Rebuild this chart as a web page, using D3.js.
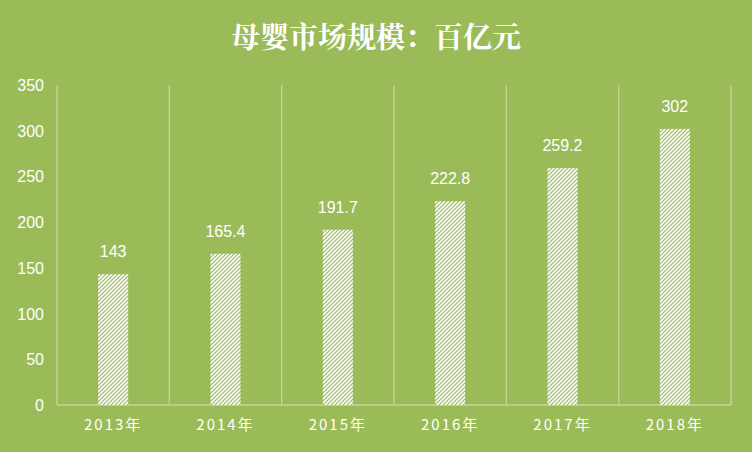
<!DOCTYPE html>
<html><head><meta charset="utf-8">
<script src="https://cdn.jsdelivr.net/npm/d3@7"></script>
<style>body{margin:0;background:#9bbb59;}</style>
</head><body>
<script>
const years = ["2013年", "2014年", "2015年", "2016年", "2017年", "2018年"];
const values = [143, 165.4, 191.7, 222.8, 259.2, 302];
const yTicks = [0, 50, 100, 150, 200, 250, 300, 350];

const W = 752, H = 452;
const svg = d3.select("body").append("svg").attr("width", W).attr("height", H);
svg.append("rect").attr("width", W).attr("height", H).attr("fill", "#9bbb59");

const pat = svg.append("defs").append("pattern")
	.attr("id", "hatch").attr("patternUnits", "userSpaceOnUse")
	.attr("width", 4).attr("height", 4);
pat.append("rect").attr("width", 4).attr("height", 4).attr("fill", "white");
pat.append("path").attr("d", "M-1,1 l2,-2 M0,4 l4,-4 M3,5 l2,-2")
	.attr("stroke", "#9bbb59").attr("stroke-width", 1.2);

const x = d3.scaleBand().domain(years).range([57, 731]);
const y = d3.scaleLinear().domain([0, 350]).range([405, 85]);

svg.append("text").attr("x", W / 2).attr("y", 48).attr("text-anchor", "middle")
	.attr("fill", "white").attr("font-size", 29).attr("font-weight", "bold")
	.attr("font-family", "Noto Serif CJK SC, Noto Sans CJK SC, sans-serif")
	.text("母婴市场规模：百亿元");

// category separators
const seps = x.domain().map(d => x(d)).concat([731]);
svg.selectAll(".sep").data(seps).join("line")
	.attr("x1", d => d).attr("x2", d => d).attr("y1", y(350)).attr("y2", y(0))
	.attr("stroke", "#c3d69b").attr("stroke-width", 1.3);
svg.append("line").attr("x1", 57).attr("x2", 731).attr("y1", y(0)).attr("y2", y(0))
	.attr("stroke", "#c3d69b").attr("stroke-width", 1.5);

svg.selectAll(".yt").data(yTicks).join("text")
	.attr("x", 44).attr("y", d => y(d) + 6).attr("text-anchor", "end")
	.attr("fill", "white").attr("font-size", 16).attr("font-family", "Liberation Sans, sans-serif")
	.text(d => d);

svg.selectAll(".xt").data(years).join("text")
	.attr("x", d => x(d) + x.bandwidth() / 2).attr("y", 430).attr("text-anchor", "middle")
	.attr("fill", "white").attr("font-size", 15).attr("letter-spacing", 2)
	.attr("font-family", "Noto Sans CJK SC, sans-serif")
	.text(d => d);

const bw = 30;
svg.selectAll(".bar").data(values).join("rect")
	.attr("x", (d, i) => x(years[i]) + x.bandwidth() / 2 - bw / 2)
	.attr("y", d => y(d)).attr("width", bw).attr("height", d => y(0) - y(d))
	.attr("fill", "url(#hatch)");

svg.selectAll(".lbl").data(values).join("text")
	.attr("x", (d, i) => x(years[i]) + x.bandwidth() / 2).attr("y", d => y(d) - 17)
	.attr("text-anchor", "middle").attr("fill", "white").attr("font-size", 16)
	.attr("font-family", "Liberation Sans, sans-serif")
	.text(d => d);
</script>
</body></html>
